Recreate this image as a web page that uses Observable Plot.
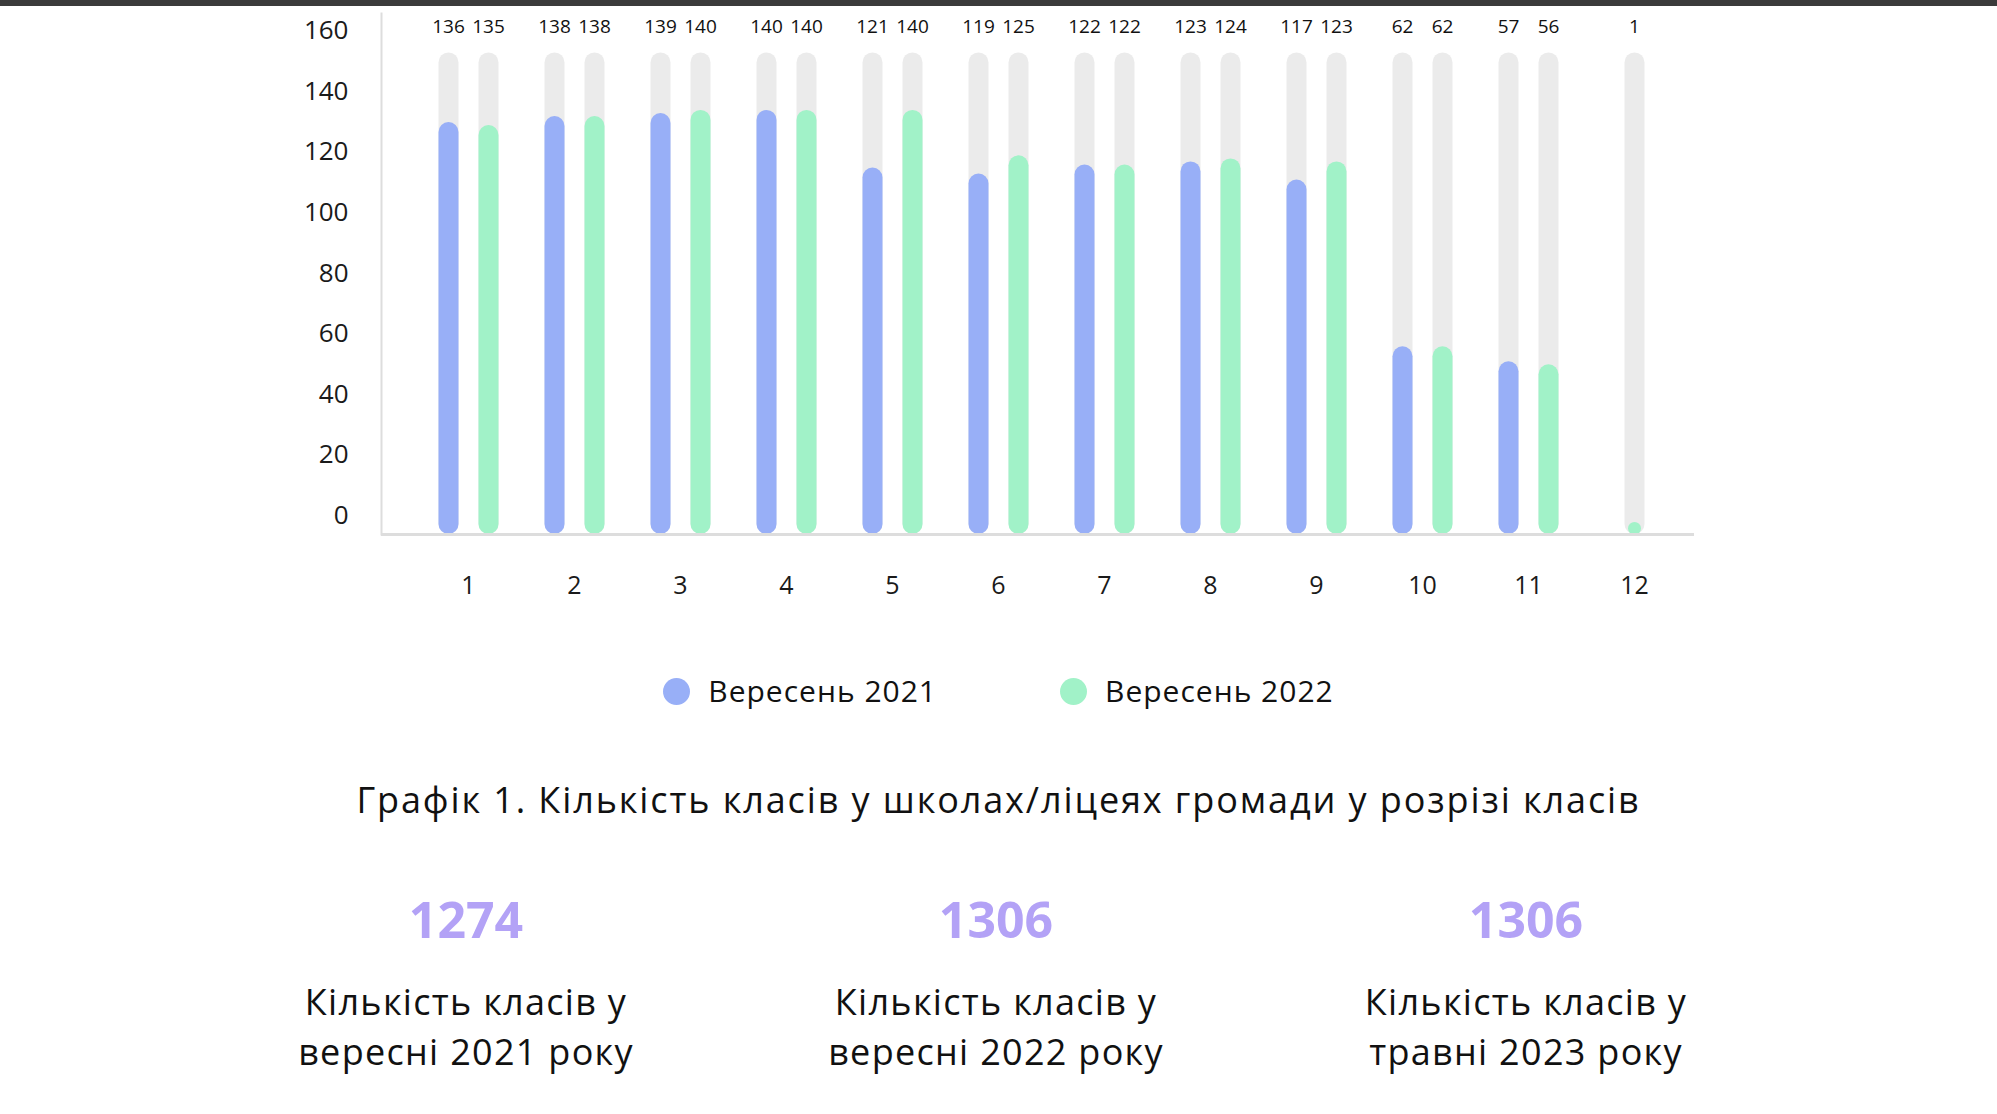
<!DOCTYPE html>
<html>
<head>
<meta charset="utf-8">
<script src="https://cdn.jsdelivr.net/npm/d3@7"></script>
<script src="https://cdn.jsdelivr.net/npm/@observablehq/plot@0.6"></script>
<style>
  html, body { margin: 0; padding: 0; background: #fff; }
  body { width: 1997px; height: 1114px; overflow: hidden; position: relative;
         font-family: "Open Sans", "Noto Sans", sans-serif; color: #111; }
  #strip { position: absolute; left: 0; top: 0; width: 100%; height: 6px; background: #3b3b3b; z-index: 2; }
  #chart { position: absolute; left: 0; top: 0; }
  #legend { position: absolute; left: 0; top: 671px; width: 100%; height: 40px;
            display: flex; justify-content: center; align-items: center; gap: 123px; }
  .item { display: flex; align-items: center; gap: 18px; font-size: 30px; line-height: 40px; letter-spacing: 1px; }
  .sw { width: 27px; height: 27px; border-radius: 50%; }
  #caption { position: absolute; left: 0; top: 778px; width: 100%; text-align: center;
             font-size: 36px; font-weight: 500; line-height: 44px; letter-spacing: 1.9px; }
  #stats { position: absolute; left: 201px; top: 888px; width: 1590px; display: flex; }
  .stat { width: 530px; text-align: center; }
  .num { font-size: 50px; font-weight: 700; color: #b3a2f6; line-height: 62px; }
  .lbl { font-size: 36px; line-height: 50px; margin-top: 27px; color: #111; letter-spacing: 1.3px; }
</style>
</head>
<body>
<div id="strip"></div>
<div id="chart"></div>
<div id="legend"></div>
<div id="caption"></div>
<div id="stats"></div>
<script>
// ---- data ----
const classes = ["1", "2", "3", "4", "5", "6", "7", "8", "9", "10", "11", "12"];
const sep2021 = [136, 138, 139, 140, 121, 119, 122, 123, 117, 62, 57, null];
const sep2022 = [135, 138, 140, 140, 140, 125, 122, 124, 123, 62, 56, 1];
const seriesNames = ["Вересень 2021", "Вересень 2022"];
const trackMax = 159;
const yTicks = [0, 20, 40, 60, 80, 100, 120, 140, 160];
const captionText = "Графік 1. Кількість класів у школах/ліцеях громади у розрізі класів";
const totals = [1274, 1306, 1306];
const totalLabels = [
  ["Кількість класів у", "вересні 2021 року"],
  ["Кількість класів у", "вересні 2022 року"],
  ["Кількість класів у", "травні 2023 року"]
];

const blue = "#98aff7";
const green = "#a1f2c8";
const track = "#ebebeb";

// rows: left (2021), right (2022 paired), single (2022 where 2021 absent)
const left = [], right = [], single = [];
classes.forEach((c, i) => {
  if (sep2021[i] != null) {
    left.push({cls: c, value: sep2021[i]});
    right.push({cls: c, value: sep2022[i]});
  } else {
    single.push({cls: c, value: sep2022[i]});
  }
});

const barOpts = (dx, color) => ({
  x: "cls", y1: "value", y2: () => 0, dx,
  stroke: color, strokeWidth: 20, strokeLinecap: "round", inset: 10
});
const trackOpts = (dx) => ({
  x: "cls", y1: () => trackMax, y2: () => 0, dx,
  stroke: track, strokeWidth: 20, strokeLinecap: "round", inset: 10
});
const labelOpts = (dx) => ({
  x: "cls", text: d => String(d.value), frameAnchor: "top", dy: 6, dx,
  fontSize: 19, fontWeight: 500, fill: "#111"
});

const chart = Plot.plot({
  width: 1997,
  height: 614,
  marginTop: 13,
  marginBottom: 80,
  marginLeft: 381,
  marginRight: 303,
  style: {fontFamily: '"Open Sans", "Noto Sans", sans-serif', background: "transparent", overflow: "visible"},
  x: {type: "point", domain: classes, range: [468, 1634], padding: 0, label: null},
  y: {domain: [0, 172], label: null},
  marks: [
    Plot.ruleX(left, trackOpts(-20)),
    Plot.ruleX(right, trackOpts(20)),
    Plot.ruleX(single, trackOpts(0)),
    Plot.ruleX(left, barOpts(-20, blue)),
    Plot.ruleX(right, barOpts(20, green)),
    Plot.dot(single, {x: "cls", y: "value", r: 6.5, dy: -3, fill: green}),
    Plot.text(left, labelOpts(-20)),
    Plot.text(right, labelOpts(20)),
    Plot.text(single, labelOpts(0)),
    Plot.frame({anchor: "left", stroke: "#dddddd", strokeWidth: 2}),
    Plot.ruleY([0], {stroke: "#dddddd", strokeWidth: 3}),
    Plot.axisY({ticks: yTicks, tickSize: 0, tickPadding: 33, dy: -19, fontSize: 26, color: "#1a1a1a", label: null}),
    Plot.axisX({tickSize: 0, tickPadding: 42, fontSize: 25, color: "#1a1a1a", label: null})
  ]
});
document.getElementById("chart").appendChild(chart);

// ---- legend ----
const legend = document.getElementById("legend");
[blue, green].forEach((col, i) => {
  const it = document.createElement("div");
  it.className = "item";
  const sw = document.createElement("div");
  sw.className = "sw";
  sw.style.background = col;
  const tx = document.createElement("span");
  tx.textContent = seriesNames[i];
  it.appendChild(sw); it.appendChild(tx);
  legend.appendChild(it);
});

document.getElementById("caption").textContent = captionText;

const stats = document.getElementById("stats");
totals.forEach((t, i) => {
  const s = document.createElement("div");
  s.className = "stat";
  const n = document.createElement("div");
  n.className = "num";
  n.textContent = String(t);
  const l = document.createElement("div");
  l.className = "lbl";
  l.innerHTML = totalLabels[i].join("<br>");
  s.appendChild(n); s.appendChild(l);
  stats.appendChild(s);
});
</script>
</body>
</html>
